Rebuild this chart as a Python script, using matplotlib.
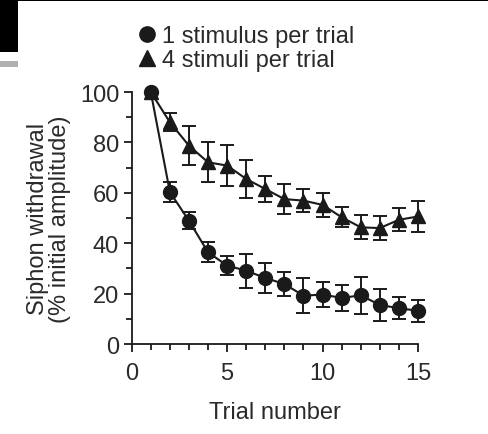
import matplotlib
matplotlib.use("Agg")
import matplotlib.pyplot as plt
from matplotlib.lines import Line2D
from matplotlib.patches import Rectangle
from matplotlib.ticker import MultipleLocator

plt.rcParams['font.family'] = ['Liberation Sans', 'DejaVu Sans']

trials = list(range(1, 16))
one_stim = [100, 60.3, 48.9, 36.4, 31.1, 29.1, 26.2, 23.8, 19.2, 19.6, 18.3, 19.3, 15.5, 14.2, 13.2]
one_err = [0, 4, 3.4, 4, 3.8, 6.7, 6, 4.8, 6.9, 5, 5.3, 7.3, 6.4, 4.4, 4.3]
four_stim = [100, 88, 78.7, 72.1, 70.8, 65.5, 61.5, 57.5, 56.9, 55.2, 50.3, 46.3, 46.0, 49.3, 50.6]
four_err = [0, 3.6, 7.7, 7.9, 8.2, 7.7, 5.3, 6, 4.6, 4.8, 4.0, 4.7, 4.9, 4.5, 6]
legend_labels = ["1 stimulus per trial", "4 stimuli per trial"]
xlabel = "Trial number"
ylabel = "Siphon withdrawal\n(% initial amplitude)"

W, H = 489, 435
FS = 17
fig = plt.figure(figsize=(W / 100, H / 100), dpi=100)
ax = fig.add_axes([131.7 / W, 1 - 345 / H, (418 - 131.7) / W, (345 - 93) / H])

col = '#1a1a1a'
tcol = '#2a2a2a'
common = dict(color=col, lw=1.5, elinewidth=1.4, capsize=4.8, capthick=1.4, clip_on=False)
e1 = ax.errorbar(trials, four_stim, yerr=four_err, marker='^', ms=10, **common)
e2 = ax.errorbar(trials, one_stim, yerr=one_err, marker='o', ms=10, **common)
for e in (e1, e2):
    for art in e.lines[1] + e.lines[2]:
        art.set_clip_on(False)

ax.set_xlim(0, 15)
ax.set_ylim(0, 100)
ax.spines['top'].set_visible(False)
ax.spines['right'].set_visible(False)
for s in ('left', 'bottom'):
    ax.spines[s].set_linewidth(1.3)
    ax.spines[s].set_color(col)
ax.xaxis.set_major_locator(MultipleLocator(5))
ax.xaxis.set_minor_locator(MultipleLocator(1))
ax.yaxis.set_major_locator(MultipleLocator(20))
ax.yaxis.set_minor_locator(MultipleLocator(10))
ax.tick_params(which='major', length=6, width=1.3, color=col, labelsize=FS, labelcolor=tcol, pad=3)
ax.tick_params(which='minor', length=4, width=1.3, color=col)
ax.tick_params(axis='x', pad=7)

ax.set_xlabel(xlabel, fontsize=FS, color=tcol, labelpad=12)
ax.set_ylabel(ylabel, fontsize=FS, color=tcol, labelpad=6, linespacing=1.05)

handles = [Line2D([], [], color=col, marker='o', linestyle='None', ms=11),
           Line2D([], [], color=col, marker='^', linestyle='None', ms=11)]
fig.legend(handles, legend_labels, loc='upper left', bbox_to_anchor=(135 / W, 1 - 26 / H),
           frameon=False, fontsize=FS, handletextpad=0.15, labelspacing=0.1,
           handlelength=1.0, borderaxespad=0, borderpad=0, labelcolor=tcol)

# scanning artifacts: black corner block and top strip
fig.add_artist(Rectangle((0, 1 - 53 / H), 18 / W, 53 / H, transform=fig.transFigure,
                         color='black', lw=0))
fig.add_artist(Rectangle((0, 1 - 2 / H), 1, 2 / H, transform=fig.transFigure,
                         color='black', lw=0))
fig.add_artist(Rectangle((0, 1 - 68 / H), 18 / W, 6 / H, transform=fig.transFigure,
                         color='#b0b0b0', lw=0))

fig.savefig('out.png', dpi=100)
